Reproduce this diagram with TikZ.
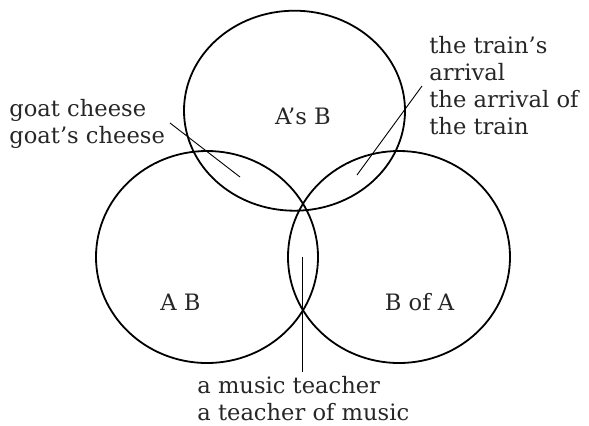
\documentclass[tikz,border=0pt]{standalone}
\usepackage{fontspec}
\setmainfont{DejaVu Serif}
\usetikzlibrary{positioning}
\tikzset{
  ring/.style={draw,line width=0.9pt},
  leader/.style={draw,line width=0.45pt},
  lbl/.style={inner sep=0pt,align=left,text=black!85,font=\fontsize{11.3}{13.5}\selectfont},
  setname/.style={inner sep=0pt,text=black!85,font=\fontsize{11.3}{13.5}\selectfont},
}
\begin{document}
\begin{tikzpicture}[x=0.5pt,y=-0.5pt]
  \useasboundingbox (0,0) rectangle (589,425);
  % the three sets
  \coordinate (ctop) at (294.5,110.7);
  \coordinate (cleft) at (207,257);
  \coordinate (cright) at (399,257);
  \draw[ring] (ctop) ellipse [x radius=110.5, y radius=100];
  \draw[ring] (cleft) ellipse [x radius=111, y radius=106];
  \draw[ring] (cright) ellipse [x radius=111, y radius=106];
  \node[setname,anchor=base] (poss) at (303,124) {A’s B};
  \node[setname,anchor=base] (comp) at (180.5,310) {A B};
  \node[setname,anchor=base] (ofphr) at (419.5,310) {B of A};
  % labels and leaders (base = last line)
  \node[lbl,anchor=base west] (goat) at (9,143) {goat cheese\\goat’s cheese};
  \node[lbl,anchor=base west] (train) at (429,134) {the train’s\\arrival\\the arrival of\\the train};
  \node[lbl,anchor=base west] (music) at (197,420) {a music teacher\\a teacher of music};
  \coordinate (goat0) at (170,123);
  \coordinate (goat1) at (240,177);
  \coordinate (train0) at (422,86);
  \coordinate (train1) at (357,175);
  \coordinate (music0) at (302,372);
  \coordinate (music1) at (302,257);
  \draw[leader] (goat0) -- (goat1);
  \draw[leader] (train0) -- (train1);
  \draw[leader] (music0) -- (music1);
\end{tikzpicture}
\end{document}
